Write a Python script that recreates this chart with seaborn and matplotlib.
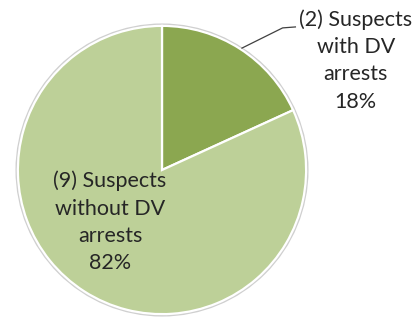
import matplotlib
matplotlib.use("Agg")
import matplotlib.pyplot as plt
import seaborn as sns
import numpy as np

# Suspect counts by domestic-violence arrest history
categories = ["Suspects with DV arrests", "Suspects without DV arrests"]
counts = [2, 9]
percent_labels = ["18%", "82%"]
slice_colors = ["#8BA750", "#BDD098"]

sns.set_theme(style="white")
plt.rcParams["font.family"] = ["Lato", "DejaVu Sans"]

fig = plt.figure(figsize=(4.17, 3.27), dpi=100)
fig.patch.set_facecolor("white")
ax = fig.add_axes([15 / 417, 10 / 327, 294 / 417, 294 / 327])

# faint grey rim around the pie
rim = plt.Circle((0, 0), 1.012, color="#D0D0D0", zorder=0)
ax.add_patch(rim)

wedges, _ = ax.pie(
    counts,
    colors=slice_colors,
    startangle=90,
    counterclock=False,
    radius=1.0,
    wedgeprops=dict(edgecolor="white", linewidth=1.6),
)
ax.set_xlim(-1.02, 1.02)
ax.set_ylim(-1.02, 1.02)
ax.set_aspect("equal")
ax.axis("off")

text_kw = dict(ha="center", va="center", fontsize=15.5, color="#262626", linespacing=1.45)

def label_text(i):
    n = counts[i]
    if i == 0:
        return f"({n}) Suspects\nwith DV\narrests\n{percent_labels[i]}"
    return f"({n}) Suspects\nwithout DV\narrests\n{percent_labels[i]}"

# label for the small slice sits outside with a leader line
ax.text(1.345, 0.76, label_text(0), **text_kw)
ax.plot([0.551, 0.837, 0.93], [0.844, 0.986, 0.993], color="#404040", lw=0.9,
        solid_capstyle="butt", clip_on=False)

# label for the large slice sits inside it
ax.text(-0.36, -0.36, label_text(1), **text_kw)

fig.savefig("out.png", dpi=100, facecolor="white")
